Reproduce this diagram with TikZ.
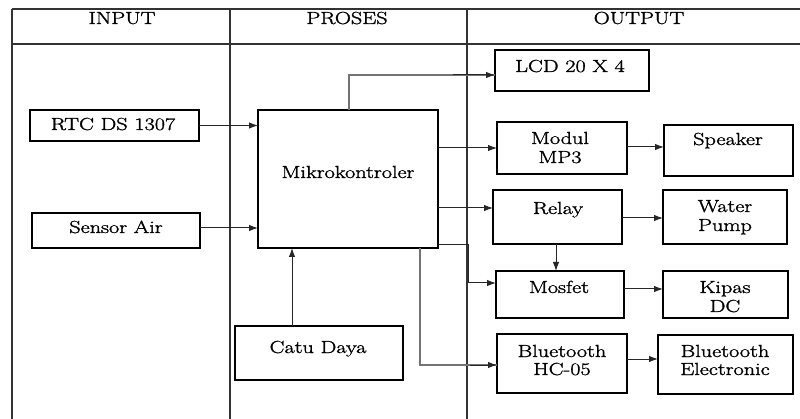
\documentclass[tikz,border=0pt]{standalone}
\usepackage{fontspec}
\usepackage{graphicx}
\setmainfont{Latin Modern Roman}[FakeBold=1.3]
\usetikzlibrary{arrows.meta}
\newcommand{\wt}[1]{\scalebox{1.27}[1]{#1}}
\begin{document}
\begin{tikzpicture}[x=1pt,y=-1pt,
  grid/.style={draw=black!80,line width=1.2pt},
  box/.style={draw=black,line width=2.6pt,rectangle,inner sep=0pt,outer sep=0pt},
  arr/.style={draw=black!85,line width=1pt,-{Latex[length=9pt,width=6.5pt]}},
  txt/.style={anchor=base,inner sep=0pt,font=\rmfamily\fontsize{17.5}{19.5}\selectfont}]
\useasboundingbox (0,0) rectangle (800,419);
\fill[white] (0,0) rectangle (800,419);
% table
\coordinate (tl) at (12,9);
\coordinate (tr) at (800,9);
\coordinate (hl) at (12,44);
\coordinate (hr) at (800,44);
\coordinate (bl) at (12,419);
\coordinate (d1t) at (230,9);
\coordinate (d1b) at (230,419);
\coordinate (d2t) at (467,9);
\coordinate (d2b) at (467,419);
\draw[grid] (tl) -- (tr);
\draw[grid] (hl) -- (hr);
\draw[grid] (tl) -- (bl);
\draw[grid] (d1t) -- (d1b);
\draw[grid] (d2t) -- (d2b);
\node[txt] (hin) at (122,24) {\wt{INPUT}};
\node[txt] (hpr) at (347,24) {\wt{PROSES}};
\node[txt] (hout) at (639,24) {\wt{OUTPUT}};
% boxes
\newcommand{\mkbox}[5]{\node[box,minimum width={#4-#2},minimum height={#5-#3}] (#1) at ({(#2+#4)/2},{(#3+#5)/2}) {};}
\mkbox{rtc}{30}{110}{199}{141}
\mkbox{sensor}{32}{213}{200}{248}
\mkbox{mikro}{258}{110}{438}{248}
\mkbox{catu}{235}{326}{403}{380}
\mkbox{lcd}{495}{50}{649}{91}
\mkbox{mp3}{497}{122}{627}{174}
\mkbox{speaker}{664}{125}{793}{176}
\mkbox{relay}{493}{190}{622}{244}
\mkbox{pump}{663}{190}{787}{244}
\mkbox{mosfet}{496}{271}{624}{318}
\mkbox{kipas}{663}{271}{788}{318}
\mkbox{hc}{497}{334}{627}{393}
\mkbox{bte}{658}{335}{793}{394}
% texts
\node[txt] (trtc) at (113,130) {\wt{RTC DS 1307}};
\node[txt] (tsen) at (116,233) {\wt{Sensor Air}};
\node[txt] (tmik) at (348,178) {\wt{Mikrokontroler}};
\node[txt] (tcatu) at (318,353) {\wt{Catu Daya}};
\node[txt] (tlcd) at (570,72) {\wt{LCD 20 X 4}};
\node[txt] (tmp1) at (560,144) {\wt{Modul}};
\node[txt] (tmp2) at (560,163) {\wt{MP3}};
\node[txt] (tspk) at (728,145) {\wt{Speaker}};
\node[txt] (trel) at (558,214) {\wt{Relay}};
\node[txt] (tpu1) at (725,212) {\wt{Water}};
\node[txt] (tpu2) at (725,231) {\wt{Pump}};
\node[txt] (tmos) at (559,293) {\wt{Mosfet}};
\node[txt] (tki1) at (725,293) {\wt{Kipas}};
\node[txt] (tki2) at (725,312) {\wt{DC}};
\node[txt] (thc1) at (562,357) {\wt{Bluetooth}};
\node[txt] (thc2) at (562,375) {\wt{HC-05}};
\node[txt] (tbe1) at (725,357) {\wt{Bluetooth}};
\node[txt] (tbe2) at (725,375) {\wt{Electronic}};
% connectors
\draw[arr] (rtc.east) -- (mikro.west |- rtc.east);
\draw[arr] (sensor.east |- 0,228) -- (mikro.west |- 0,228);
\draw[arr] (catu.north -| 292,0) -- (mikro.south -| 292,0);
\draw[draw=black!55,line width=1.6pt] (mikro.north -| 349,0) -- (349,75) -- (lcd.west |- 0,75);
\draw[arr] (453,75) -- (lcd.west |- 0,75);
\draw[arr] (mikro.east |- mp3.west) -- (mp3.west);
\draw[arr] (mp3.east |- 0,147) -- (speaker.west |- 0,147);
\draw[arr] (mikro.east |- 0,208) -- (relay.west |- 0,208);
\draw[arr] (relay.east |- 0,218) -- (pump.west |- 0,218);
\draw[arr] (relay.south -| 556,0) -- (mosfet.north -| 556,0);
\draw[arr] (mikro.east |- 0,245) -- (468,245) -- (468,283) -- (mosfet.west |- 0,283);
\draw[arr] (mosfet.east |- 0,289) -- (kipas.west |- 0,289);
\draw[draw=black!55,line width=1.6pt] (mikro.south -| 420,0) -- (420,365) -- (hc.west |- 0,365);
\draw[arr] (470,365) -- (hc.west |- 0,365);
\draw[arr] (hc.east |- 0,359) -- (bte.west |- 0,359);
\end{tikzpicture}
\end{document}
